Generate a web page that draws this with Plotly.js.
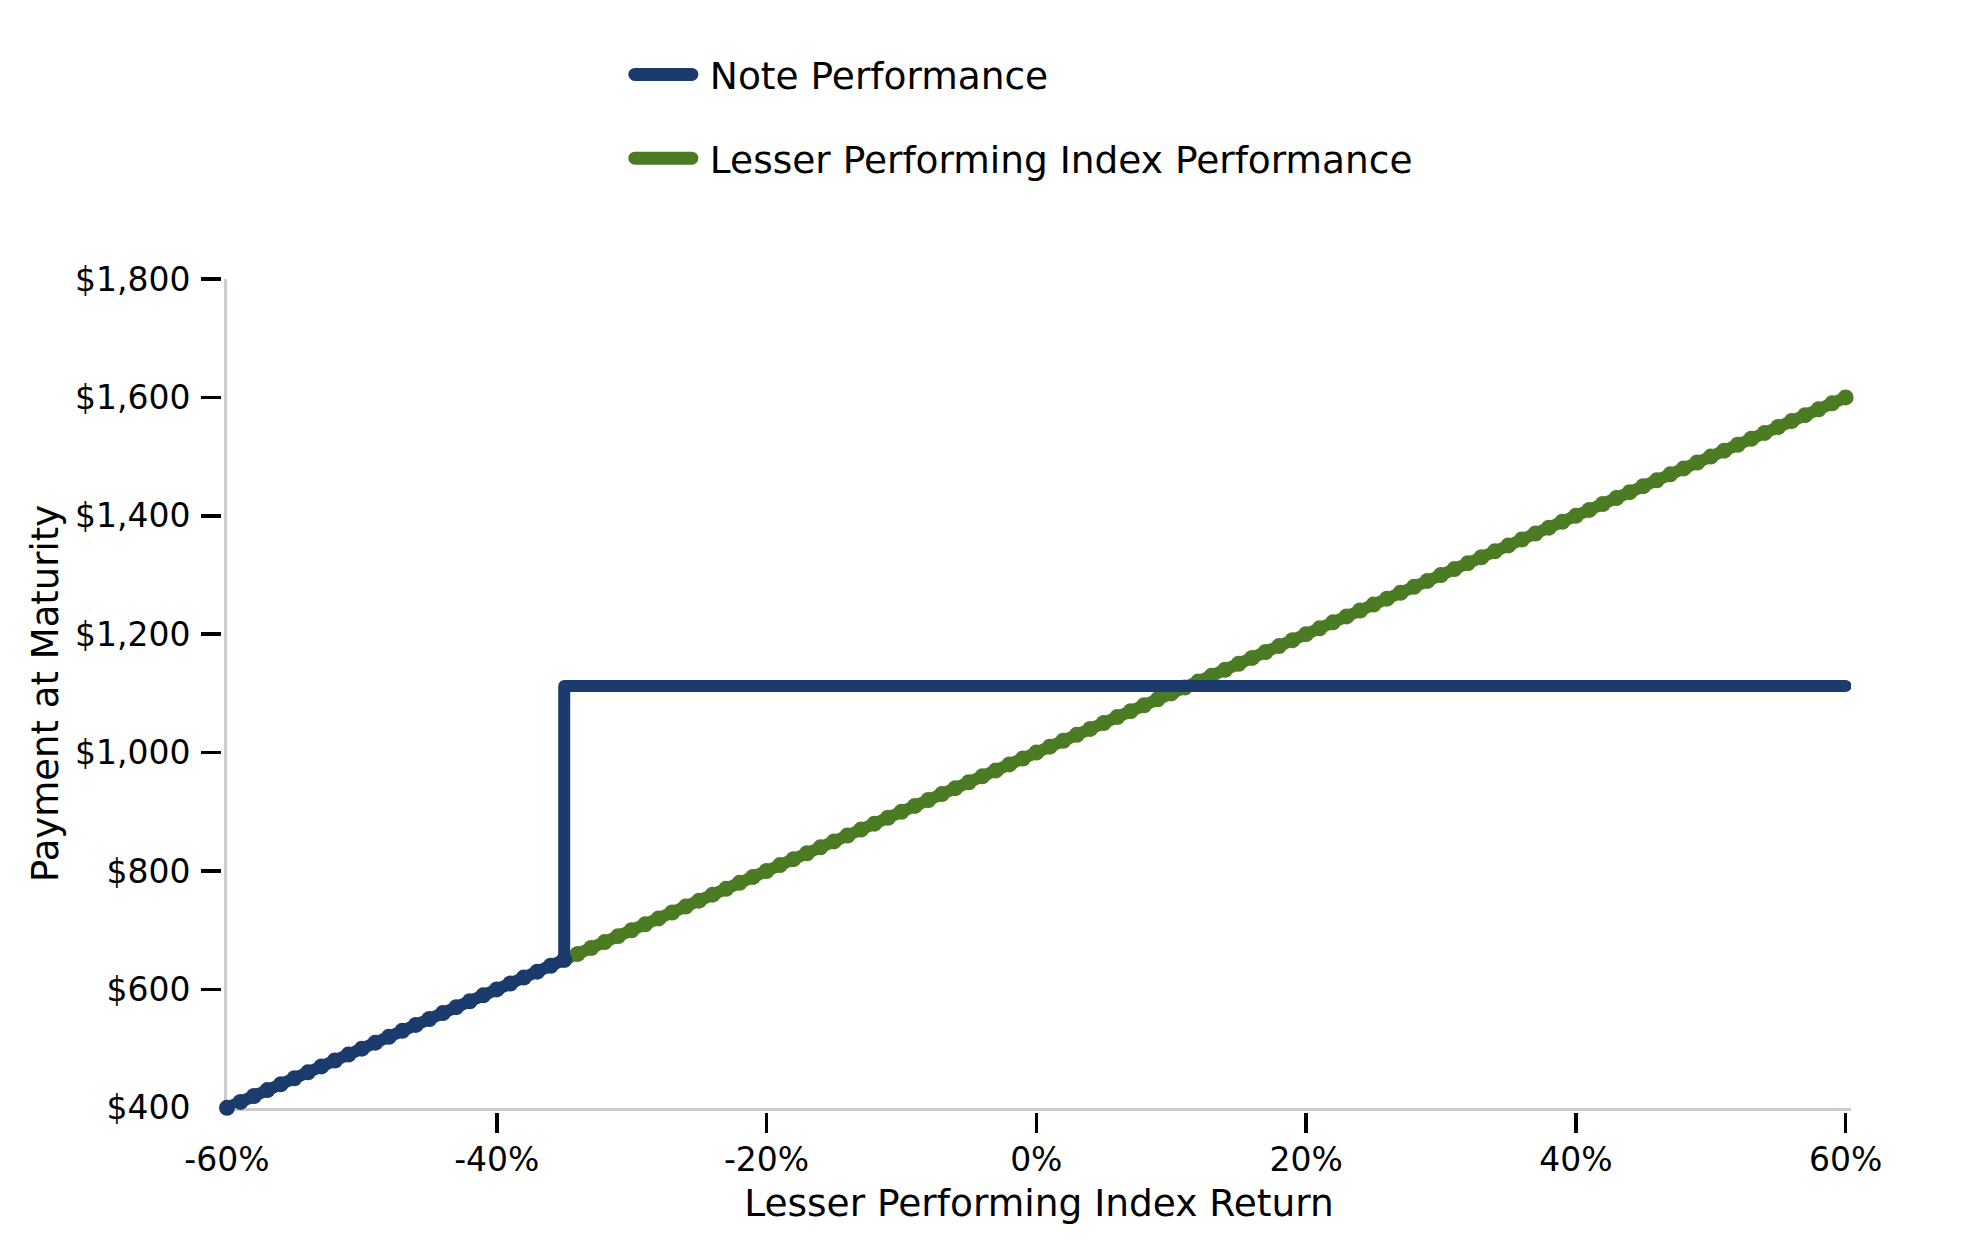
<!DOCTYPE html>
<html>
<head>
<meta charset="utf-8">
<script src="https://cdn.plot.ly/plotly-3.0.1.min.js"></script>
<style>
  html, body { margin: 0; padding: 0; background: #fff; }
  #chart { width: 1979px; height: 1250px; }
  .scatterlayer .js-line { stroke-linecap: round; stroke-linejoin: round; }
  .legendlines path { stroke-linecap: round; }
</style>
</head>
<body>
<div id="chart"></div>
<script>
// Lesser performing index: return (%) and payment at maturity ($)
const indexReturn = [
  -35, -34, -33, -32, -31, -30, -29, -28, -27, -26, -25, -24, -23, -22, -21,
  -20, -19, -18, -17, -16, -15, -14, -13, -12, -11, -10, -9, -8, -7, -6, -5,
  -4, -3, -2, -1, 0, 1, 2, 3, 4, 5, 6, 7, 8, 9, 10, 11, 12, 13, 14, 15, 16,
  17, 18, 19, 20, 21, 22, 23, 24, 25, 26, 27, 28, 29, 30, 31, 32, 33, 34, 35,
  36, 37, 38, 39, 40, 41, 42, 43, 44, 45, 46, 47, 48, 49, 50, 51, 52, 53, 54,
  55, 56, 57, 58, 59, 60
];
const indexPayment = [
  650, 660, 670, 680, 690, 700, 710, 720, 730, 740, 750, 760, 770, 780, 790,
  800, 810, 820, 830, 840, 850, 860, 870, 880, 890, 900, 910, 920, 930, 940, 950,
  960, 970, 980, 990, 1000, 1010, 1020, 1030, 1040, 1050, 1060, 1070, 1080, 1090, 1100, 1110, 1120, 1130, 1140, 1150, 1160,
  1170, 1180, 1190, 1200, 1210, 1220, 1230, 1240, 1250, 1260, 1270, 1280, 1290, 1300, 1310, 1320, 1330, 1340, 1350,
  1360, 1370, 1380, 1390, 1400, 1410, 1420, 1430, 1440, 1450, 1460, 1470, 1480, 1490, 1500, 1510, 1520, 1530, 1540,
  1550, 1560, 1570, 1580, 1590, 1600
];

// Note below the barrier: tracks the index
const noteLowReturn = [
  -60, -59, -58, -57, -56, -55, -54, -53, -52, -51, -50, -49, -48, -47, -46,
  -45, -44, -43, -42, -41, -40, -39, -38, -37, -36, -35
];
const noteLowPayment = [
  400, 410, 420, 430, 440, 450, 460, 470, 480, 490, 500, 510, 520, 530, 540,
  550, 560, 570, 580, 590, 600, 610, 620, 630, 640, 650
];
// Note at/above the barrier: jump to the flat payment
const noteHighReturn = [-35, -35, 60];
const noteHighPayment = [650, 1112.5, 1112.5];

// Axis ticks
const xTickVals = [-60, -40, -20, 0, 20, 40, 60];
const xTickText = ['-60%', '-40%', '-20%', '0%', '20%', '40%', '60%'];
const yTickVals = [400, 600, 800, 1000, 1200, 1400, 1600, 1800];
const yTickText = ['$400', '$600', '$800', '$1,000', '$1,200', '$1,400', '$1,600', '$1,800'];

const BLUE = '#1b3b6c';
const GREEN = '#4b7b22';
const AXIS_GRAY = '#c8cdd2';
const FONT = 'DejaVu Sans, Verdana, sans-serif';

// a little room past 60% so the round line end is not clipped
const X_RANGE = [-60, 60.4];
const X_DOMAIN = [0.00368, 1];
const Y_RANGE = [400, 1800];
const Y_DOMAIN = [0.005, 1];

const traces = [
  {
    x: indexReturn, y: indexPayment,
    type: 'scatter', mode: 'lines+markers',
    line: { color: GREEN, width: 12 },
    marker: { color: GREEN, size: 16 },
    cliponaxis: false,
    showlegend: false, hoverinfo: 'skip'
  },
  {
    x: noteLowReturn, y: noteLowPayment,
    type: 'scatter', mode: 'lines+markers',
    line: { color: BLUE, width: 12 },
    marker: { color: BLUE, size: 16 },
    cliponaxis: false,
    showlegend: false, hoverinfo: 'skip'
  },
  {
    x: noteHighReturn, y: noteHighPayment,
    type: 'scatter', mode: 'lines',
    line: { color: BLUE, width: 12 },
    cliponaxis: false,
    showlegend: false, hoverinfo: 'skip'
  },
  // legend entries (line only)
  {
    x: [null], y: [null], type: 'scatter', mode: 'lines',
    name: 'Note Performance', legendgroup: 'note',
    line: { color: BLUE, width: 10 }
  },
  {
    x: [null], y: [null], type: 'scatter', mode: 'lines',
    name: 'Lesser Performing Index Performance', legendgroup: 'index',
    line: { color: GREEN, width: 10 }
  },
  // empty trace so the tick-only axes get drawn
  {
    x: [null], y: [null], type: 'scatter', mode: 'lines',
    xaxis: 'x2', yaxis: 'y2', showlegend: false, hoverinfo: 'skip'
  }
];

const layout = {
  width: 1979,
  height: 1250,
  paper_bgcolor: '#fff',
  plot_bgcolor: '#fff',
  font: { family: FONT, color: '#000', size: 33 },
  margin: { l: 221, r: 128, t: 279, b: 138 },
  showlegend: true,
  legend: {
    x: 0.2496, xanchor: 'left',
    y: 1.2826, yanchor: 'top',
    font: { size: 37.5 },
    tracegroupgap: 32,
    itemwidth: 72,
    bgcolor: 'rgba(0,0,0,0)'
  },
  xaxis: {
    domain: X_DOMAIN,
    range: X_RANGE,
    anchor: 'y',
    layer: 'below traces',
    showline: true, linecolor: AXIS_GRAY, linewidth: 3,
    showgrid: false, zeroline: false,
    ticks: '',
    tickvals: xTickVals, ticktext: xTickText,
    tickfont: { size: 33 },
    ticklabelstandoff: 21,
    title: { text: 'Lesser Performing Index Return', font: { size: 37.5 }, standoff: 12 }
  },
  yaxis: {
    domain: Y_DOMAIN,
    range: Y_RANGE,
    anchor: 'x',
    layer: 'below traces',
    showline: true, linecolor: AXIS_GRAY, linewidth: 3,
    showgrid: false, zeroline: false,
    ticks: '',
    tickvals: yTickVals, ticktext: yTickText,
    tickfont: { size: 33 },
    ticklabelstandoff: 27,
    title: { text: 'Payment at Maturity', font: { size: 37 }, standoff: 5 }
  },
  // tick marks sit a few pixels off the axis lines
  xaxis2: {
    overlaying: 'x', anchor: 'free', position: 0,
    domain: X_DOMAIN,
    range: X_RANGE,
    showline: false, showgrid: false, zeroline: false,
    ticks: 'outside', ticklen: 20, tickwidth: 3.5, tickcolor: '#000',
    tickvals: xTickVals.slice(1),
    showticklabels: false
  },
  yaxis2: {
    overlaying: 'y', anchor: 'free', position: 0, side: 'left',
    domain: Y_DOMAIN,
    range: Y_RANGE,
    showline: false, showgrid: false, zeroline: false,
    ticks: 'outside', ticklen: 20, tickwidth: 3.5, tickcolor: '#000',
    tickvals: yTickVals.slice(1),
    showticklabels: false
  }
};

Plotly.newPlot('chart', traces, layout, { displayModeBar: false, staticPlot: true })
  .then(gd => {
    // longer, thicker legend lines like the original
    gd.querySelectorAll('.legendlines path').forEach(p => {
      p.setAttribute('d', 'M7,0h57');
      p.style.strokeWidth = '13px';
    });
  });
</script>
</body>
</html>
